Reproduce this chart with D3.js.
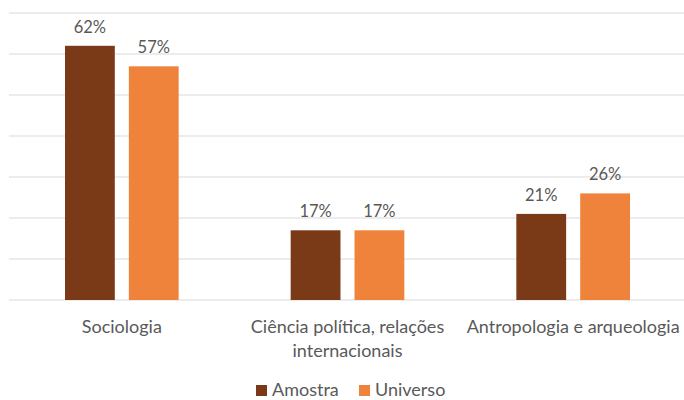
<!DOCTYPE html>
<html><head><meta charset="utf-8">
<script src="https://cdn.jsdelivr.net/npm/d3@7/dist/d3.min.js"></script>
<style>body{margin:0;background:#fff}svg{display:block}text{font-family:Lato,"Open Sans",sans-serif;fill:#595959}</style>
</head><body><svg id="c" width="684" height="400"></svg>
<script>
const categories = [["Sociologia"], ["Ciência política, relações", "internacionais"], ["Antropologia e arqueologia"]];
const series = ["Amostra", "Universo"];
const amostra = [62, 17, 21];
const universo = [57, 17, 26];
const yTicks = [0, 10, 20, 30, 40, 50, 60, 70];
const colors = ["#7B3A17", "#EF833B"];

const svg = d3.select("#c");
const x0 = d3.scaleBand().domain(d3.range(categories.length)).range([9, 686]).paddingInner(0).paddingOuter(0);
const x1 = d3.scaleBand().domain(series).range([56, x0.bandwidth() - 56]).paddingInner(0.22);
const y = d3.scaleLinear().domain([0, 70]).range([300, 13]);

svg.append("g").selectAll("line").data(yTicks).join("line")
  .attr("x1", 9).attr("x2", 684).attr("y1", d => y(d)).attr("y2", d => y(d))
  .attr("stroke", "#D9D9D9").attr("stroke-width", 1);

const vals = [amostra, universo];
series.forEach((s, si) => {
  const g = svg.append("g");
  g.selectAll("rect").data(vals[si]).join("rect")
    .attr("x", (d, i) => x0(i) + x1(s)).attr("width", x1.bandwidth())
    .attr("y", d => y(d)).attr("height", d => y(0) - y(d)).attr("fill", colors[si]);
  g.selectAll("text").data(vals[si]).join("text")
    .attr("x", (d, i) => x0(i) + x1(s) + x1.bandwidth() / 2).attr("y", d => y(d) - 13)
    .attr("text-anchor", "middle").attr("font-size", 16.5).text(d => d + "%");
});

const cl = svg.append("g").selectAll("text").data(categories).join("text")
  .attr("x", (d, i) => x0(i) + x0.bandwidth() / 2).attr("y", 333)
  .attr("text-anchor", "middle").attr("font-size", 18);
cl.selectAll("tspan").data(d => d).join("tspan")
  .attr("x", function() { return this.parentNode.getAttribute("x"); })
  .attr("dy", (d, i) => i ? 24 : 0).text(d => d);

const lx = [256, 359];
series.forEach((s, i) => {
  svg.append("rect").attr("x", lx[i]).attr("y", 385).attr("width", 11).attr("height", 11).attr("fill", colors[i]);
  svg.append("text").attr("x", lx[i] + 16).attr("y", 395.5).attr("font-size", 18).text(s);
});
</script></body></html>
